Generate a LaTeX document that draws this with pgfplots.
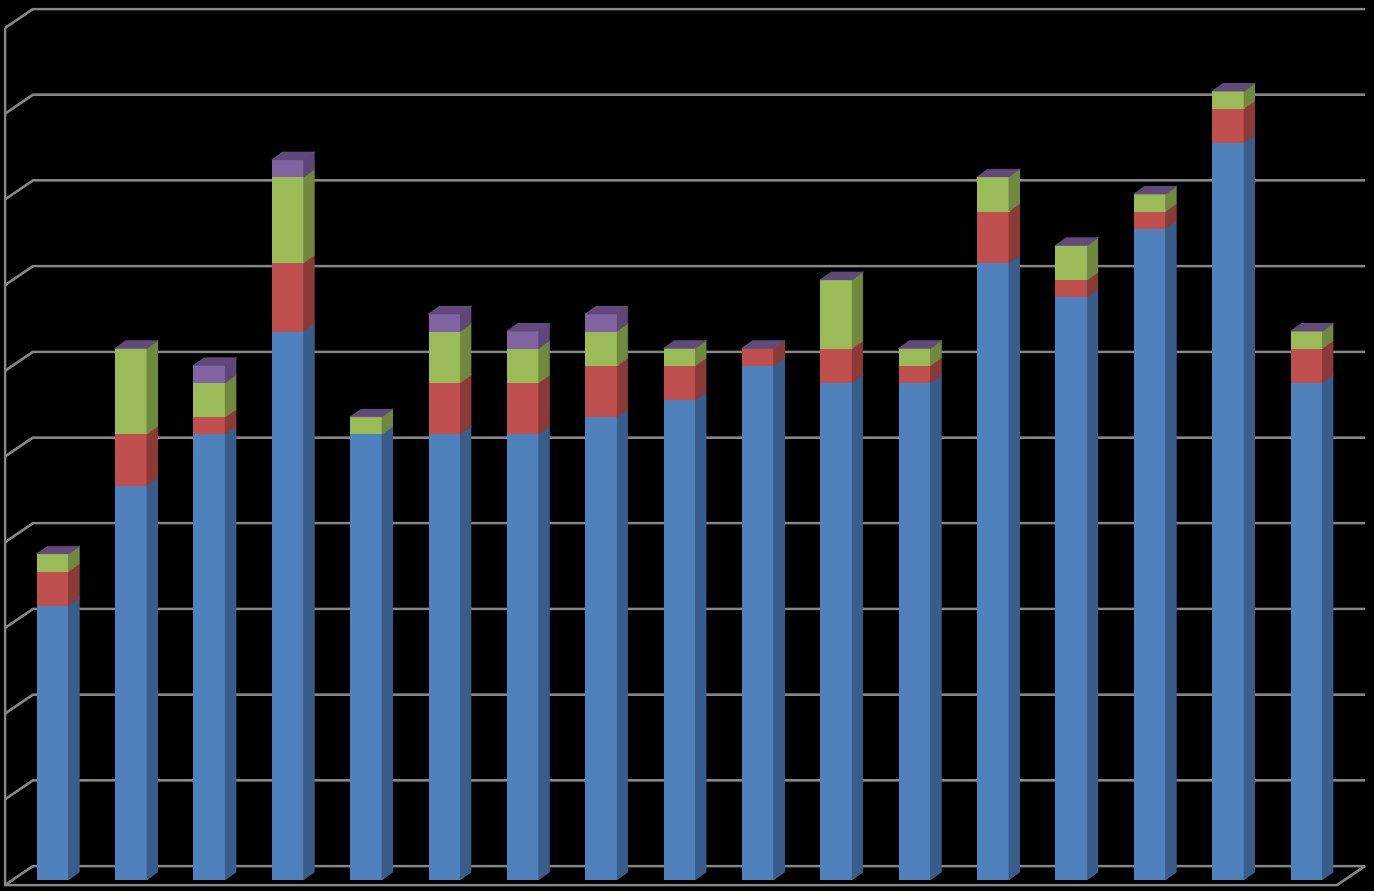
\documentclass[border=0pt]{standalone}
\usepackage{pgfplots}
\usepackage{pgfplotstable}
\pgfplotsset{compat=1.18}

\definecolor{bluefront}{HTML}{4F81BD}
\definecolor{blueside}{HTML}{385D8A}
\definecolor{redfront}{HTML}{C0504D}
\definecolor{redside}{HTML}{8C3A38}
\definecolor{greenfront}{HTML}{9BBB59}
\definecolor{greenside}{HTML}{71893F}
\definecolor{purplefront}{HTML}{8064A2}
\definecolor{purpleside}{HTML}{5C4776}
\definecolor{purpletop}{HTML}{604A7B}
\definecolor{gridgray}{HTML}{868686}

\pgfdeclareplotmark{none3d}{}

% segment tables: x, top of segment, height of segment
\pgfplotstableread{
x top h
0 16 16
1 23 23
2 26 26
3 32 32
4 26 26
5 26 26
6 26 26
7 27 27
8 28 28
9 30 30
10 29 29
11 29 29
12 36 36
13 34 34
14 38 38
15 43 43
16 29 29
}\bluetab
\pgfplotstableread{
x top h
0 18 2
1 26 3
2 27 1
3 36 4
5 29 3
6 29 3
7 30 3
8 30 2
9 31 1
10 31 2
11 30 1
12 39 3
13 35 1
14 39 1
15 45 2
16 31 2
}\redtab
\pgfplotstableread{
x top h
0 19 1
1 31 5
2 29 2
3 41 5
4 27 1
5 32 3
6 31 2
7 32 2
8 31 1
10 35 4
11 31 1
12 41 2
13 37 2
14 40 1
15 46 1
16 32 1
}\greentab
\pgfplotstableread{
x top h
2 30 1
3 42 1
5 33 1
6 32 1
7 33 1
}\purpletab
\pgfplotstableread{
x top
0 19
1 31
2 30
3 42
4 27
5 33
6 32
7 33
8 31
9 31
10 35
11 31
12 41
13 37
14 40
15 46
16 32
}\totaltab

% bar geometry (pt)
\def\hw{7.875}   % half bar width
\def\dxx{5.25}   % depth offset x
\def\dyy{3.75}   % depth offset y
\def\yu{8.57}    % pt per unit

\pgfplotsset{
  seg3d/.style n args={2}{
    only marks, mark=none3d, scatter, point meta=y,
    visualization depends on=\thisrow{h}\as\segh,
    scatter/@pre marker code/.code={%
      \pgfmathsetmacro\hh{\segh*\yu}%
      \pgfmathsetmacro\hb{\dyy-\hh}%
      \pgfmathsetmacro\xr{\hw+\dxx}%
      \fill[#1] (-\hw pt,0pt) rectangle (\hw pt,-\hh pt);
      \fill[#2] (\hw pt,0pt) -- (\xr pt,\dyy pt) -- (\xr pt,\hb pt) -- (\hw pt,-\hh pt) -- cycle;
    },
    scatter/@post marker code/.code={},
  },
  top3d/.style={
    only marks, mark=none3d, scatter, point meta=y,
    scatter/@pre marker code/.code={%
      \pgfmathsetmacro\xr{\hw+\dxx}%
      \pgfmathsetmacro\xl{-\hw+\dxx}%
      \fill[#1] (-\hw pt,0pt) -- (\hw pt,0pt) -- (\xr pt,\dyy pt) -- (\xl pt,\dyy pt) -- cycle;
    },
    scatter/@post marker code/.code={},
  },
}

\begin{document}
\begin{tikzpicture}
\fill[black] (-6.85pt,-5.75pt) rectangle (680.15pt,439.75pt);
\begin{axis}[
  at={(0,0)}, anchor=south west,
  x=39.18pt, y=8.57pt,
  xmin=-0.5, xmax=16.5, ymin=0, ymax=50,
  hide axis, clip=false,
]
% walls and floor
\pgfplotsinvokeforeach{0,5,...,50}{
  \draw[gridgray, line width=1.25pt, line join=miter]
    ([xshift=-4.35pt,yshift=-2.75pt]axis cs:-0.5,#1) --
    ([xshift=9.65pt,yshift=6.75pt]axis cs:-0.5,#1) --
    ([xshift=9.65pt,yshift=6.75pt]axis cs:16.5,#1);
}
\draw[gridgray, line width=1.25pt, line join=miter]
  ([xshift=-4.35pt,yshift=-2.75pt]axis cs:-0.5,50) --
  ([xshift=-4.35pt,yshift=-2.75pt]axis cs:-0.5,0) --
  ([xshift=-4.35pt,yshift=-2.75pt]axis cs:16.5,0) --
  ([xshift=9.65pt,yshift=6.75pt]axis cs:16.5,0);

\addplot[seg3d={bluefront}{blueside}] table[x=x,y=top] {\bluetab};
\addplot[seg3d={redfront}{redside}] table[x=x,y=top] {\redtab};
\addplot[seg3d={greenfront}{greenside}] table[x=x,y=top] {\greentab};
\addplot[seg3d={purplefront}{purpleside}] table[x=x,y=top] {\purpletab};
\addplot[top3d=purpletop] table[x=x,y=top] {\totaltab};
\end{axis}
\pgfresetboundingbox
\path (-6.85pt,-5.75pt) rectangle (680.15pt,439.75pt);
\end{tikzpicture}
\end{document}
